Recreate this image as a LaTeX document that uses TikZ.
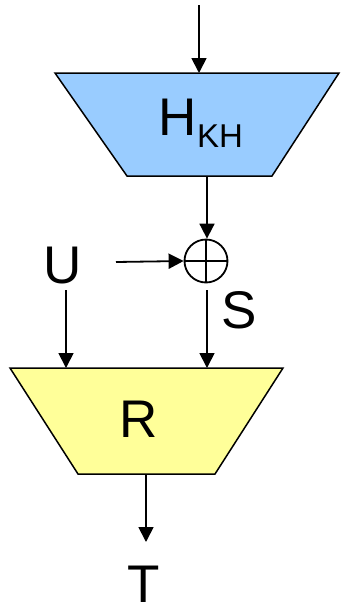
\documentclass[tikz,border=0pt]{standalone}
\usepackage{fontspec}
\setmainfont{Liberation Sans}
\usetikzlibrary{arrows.meta}
\definecolor{hashblue}{HTML}{99CCFF}
\definecolor{redyellow}{HTML}{FFFF99}
\begin{document}
\begin{tikzpicture}[x=1pt,y=-1pt,
  wire/.style={line width=1.8pt},
  flow/.style={wire,-{Triangle[length=15pt,width=15pt]}},
  block/.style={draw=black,line width=1.5pt,line join=miter},
  big/.style={font=\fontsize{53}{60}\selectfont,inner sep=0pt,anchor=base}]
\useasboundingbox (0,0) rectangle (341,606);

% hash block H_KH
\path[block,fill=hashblue] (55,73) -- (339,73) -- (272,176) -- (127,176) -- cycle;
\node[big] (h) at (201,135) {H\raisebox{-12pt}{\fontsize{33}{33}\selectfont KH}};
\coordinate (hin) at (199,73);
\coordinate (hout) at (207,176);
\coordinate (src) at (199,5);

% reduction block R
\path[block,fill=redyellow] (10,368) -- (283,368) -- (215,474) -- (78,474) -- cycle;
\node[big] (r) at (139,437) {R};
\coordinate (rinu) at (66,368);
\coordinate (rins) at (207,368);
\coordinate (rout) at (146,474);

% XOR
\node[circle,draw,line width=1.8pt,minimum size=43pt,inner sep=0pt] (xor) at (206,261) {};
\draw[line width=1.8pt] (xor.north) -- (xor.south) (xor.west) -- (xor.east);

% labels
\node[big] (u) at (63,283) {U};
\node[big] (s) at (239,328) {S};
\node[big] (t) at (144,602) {T};

\coordinate (ufeed) at (116,262);
\coordinate (udown) at (66,290);
\coordinate (sstart) at (207,290);
\coordinate (tend) at (145,542);

% connectors
\draw[flow] (src) -- (hin);
\draw[flow] (hout) -- (hout |- xor.north);
\draw[flow] (ufeed) -- (xor.west);
\draw[flow] (sstart) -- (rins);
\draw[flow] (udown) -- (rinu);
\draw[flow] (rout) -- (rout |- tend);
\end{tikzpicture}
\end{document}
